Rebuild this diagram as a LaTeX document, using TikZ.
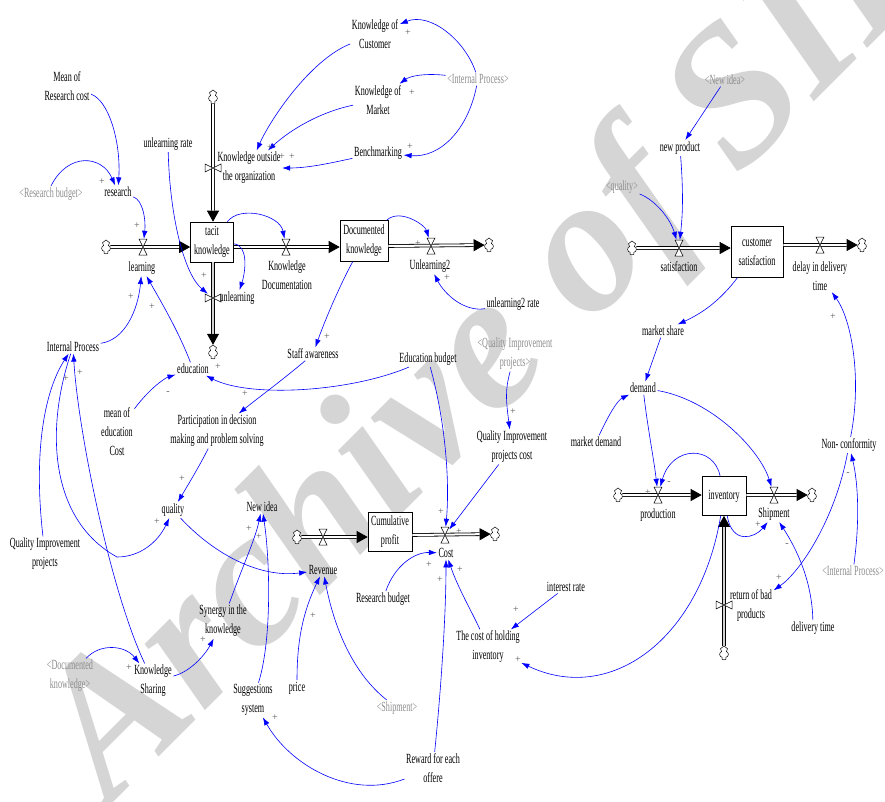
\documentclass[tikz,border=0pt]{standalone}
\usepackage{fontspec}
\setmainfont{Liberation Serif}[FakeStretch=0.58]
\newfontfamily\wmfont{Liberation Serif}
\usetikzlibrary{arrows.meta,shapes.symbols}

\tikzset{
  var/.style={align=center, inner sep=1.5pt, font=\fontsize{14}{19}\selectfont},
  shadow/.style={var, text=black!45},
  stock/.style={draw, fill=white, line width=0.6pt, align=center, inner sep=1pt, font=\fontsize{14}{19}\selectfont},
  sink/.style={cloud, cloud puffs=7, cloud ignores aspect, draw, fill=white, line width=0.5pt, minimum width=9pt, minimum height=14pt, inner sep=0pt},
  valve/.style={inner sep=0pt, minimum width=8pt, minimum height=16pt},
  vvalve/.style={inner sep=0pt, minimum width=16pt, minimum height=8pt},
  hglass/.pic={\draw[fill=white, line width=0.5pt] (-4,-8) -- (4,-8) -- (-4,8) -- (4,8) -- cycle;},
  pipe/.style={draw=black, line width=0.8pt, double distance=2pt},
  pipehead/.style={line width=0.8pt, -{Triangle[length=11pt,width=12pt]}},
  link/.style={draw=blue, line width=0.6pt, -{Latex[length=8pt,width=5.5pt]}},
  sign/.style={inner sep=0pt, text=black!65, font=\wmfont\fontsize{10}{10}\selectfont},
}
\newcommand{\flowpipe}[3][white]{%
  \draw[pipehead] #2 -- #3;
  \draw[pipe, double=#1, shorten >=11pt] #2 -- #3;
}

\begin{document}
\begin{tikzpicture}[x=1pt, y=-1pt]
\useasboundingbox (0,0) rectangle (885,801);
\clip (0,0) rectangle (885,801);

% watermark
\node[rotate=45, anchor=base west, text=gray!33, font=\wmfont\bfseries\itshape\fontsize{195}{195}\selectfont] (wm) at (108,808) {Archive of SID};

% stocks
\node[stock, minimum width=43pt, minimum height=40pt] (tacit) at (212,242) {tacit\\knowledge};
\node[stock, minimum width=48pt, minimum height=41pt] (doc) at (364,241) {Documented\\knowledge};
\node[stock, minimum width=52pt, minimum height=51pt] (cs) at (757,252) {customer\\satisfaction};
\node[stock, minimum width=44pt, minimum height=39pt] (cum) at (390,532) {Cumulative\\profit};
\node[stock, minimum width=44pt, minimum height=39pt] (inv) at (724,496) {inventory};

% clouds
\node[sink] (c1) at (106,247) {};
\node[sink] (c2) at (213,97) {};
\node[sink] (c3) at (213,352) {};
\node[sink] (c4) at (489,245) {};
\node[sink] (c5) at (632,248) {};
\node[sink] (c6) at (862,245) {};
\node[sink] (c7) at (297,537) {};
\node[sink] (c8) at (495,534) {};
\node[sink] (c9) at (618,495) {};
\node[sink] (c10) at (812,495) {};
\node[sink] (c11) at (724,653) {};

% valves
\node[valve] (vlearn) at (143,247) {};
\node[vvalve] (vkout) at (213,168) {};
\node[valve] (vkdoc) at (286,247) {};
\node[vvalve] (vunl) at (213,298) {};
\node[valve] (vunl2) at (431,246) {};
\node[valve] (vsat) at (679,248) {};
\node[valve] (vdel) at (820,245) {};
\node[valve] (vrev) at (323,537) {};
\node[valve] (vcost) at (445,535) {};
\node[valve] (vprod) at (658,495) {};
\node[valve] (vship) at (774,495) {};
\node[vvalve] (vrbp) at (724,605) {};

% pipes
\flowpipe{(c1)}{(c1 -| tacit.west)}
\flowpipe{(c2)}{(c2 |- tacit.north)}
\flowpipe{(tacit.east |- vkdoc)}{(vkdoc -| doc.west)}
\flowpipe[gray!35]{(c3 |- tacit.south)}{(c3)}
\flowpipe{(doc.east |- vunl2)}{(c4)}
\flowpipe{(c5)}{(c5 -| cs.west)}
\flowpipe{(cs.east |- vdel)}{(c6)}
\flowpipe{(c7)}{(c7 -| cum.west)}
\flowpipe{(cum.east |- vcost)}{(c8)}
\flowpipe{(c9)}{(c9 -| inv.west)}
\flowpipe{(inv.east |- vship)}{(c10)}
\flowpipe[gray!35]{(c11)}{(c11 |- inv.south)}

\foreach \v in {vlearn,vkdoc,vunl2,vsat,vdel,vrev,vcost,vprod,vship}
  \pic at (\v) {hglass};
\foreach \v in {vkout,vunl,vrbp}
  \pic[rotate=90] at (\v) {hglass};

% variables
\node[var] (mrc) at (67,86) {Mean of\\Research cost};
\node[shadow] (rbs) at (51,194) {<Research budget>};
\node[var] (res) at (118,192) {research};
\node[var] (ulr) at (168,144) {unlearning rate};
\node[var] (kout) at (249,168) {Knowledge outside\\the organization};
\node[var] (kcus) at (375,34) {Knowledge of\\Customer};
\node[var] (kmar) at (378,100) {Knowledge of\\Market};
\node[var] (bench) at (378,153) {Benchmarking};
\node[shadow] (ips1) at (478,79) {<Internal Process>};
\node[var] (learning) at (142,268) {learning};
\node[var] (kdoc) at (287,275) {Knowledge\\Documentation};
\node[var] (unl) at (237,298) {unlearning};
\node[var] (unl2) at (430,266) {Unlearning2};
\node[var] (ul2r) at (513,304) {unlearning2 rate};
\node[var] (ip) at (73,347) {Internal Process};
\node[var] (edu) at (193,369) {education};
\node[var] (staff) at (313,354) {Staff awareness};
\node[var] (edb) at (428,359) {Education budget};
\node[shadow] (qips) at (515,354) {<Quality Improvement\\projects>};
\node[var] (meco) at (117,432) {mean of\\education\\Cost};
\node[var] (part) at (217,431) {Participation in decision\\making and problem solving};
\node[var] (qipc) at (512,447) {Quality Improvement\\projects cost};
\node[var] (qual) at (173,510) {quality};
\node[var] (newidea) at (262,507) {New idea};
\node[var] (rev) at (323,570) {Revenue};
\node[var] (cost) at (446,553) {Cost};
\node[var] (qip) at (45,554) {Quality Improvement\\projects};
\node[var] (rb) at (383,599) {Research budget};
\node[var] (intr) at (566,587) {interest rate};
\node[var] (choi) at (488,647) {The cost of holding\\inventory};
\node[var] (syn) at (223,621) {Synergy in the\\knowledge};
\node[var] (ks) at (153,681) {Knowledge\\Sharing};
\node[shadow] (dks) at (70,676) {<Documented\\knowledge>};
\node[var] (sug) at (253,700) {Suggestions\\system};
\node[var] (price) at (297,688) {price};
\node[shadow] (shs) at (397,708) {<Shipment>};
\node[var] (rew) at (433,768) {Reward for each\\offere};
\node[shadow] (nis) at (725,80) {<New idea>};
\node[var] (np) at (680,148) {new product};
\node[shadow] (qs) at (622,187) {<quality>};
\node[var] (sat) at (679,267) {satisfaction};
\node[var] (delay) at (820,276) {delay in delivery\\time};
\node[var] (ms) at (663,331) {market share};
\node[var] (dem) at (643,388) {demand};
\node[var] (md) at (596,442) {market demand};
\node[var] (nc) at (849,445) {Non- conformity};
\node[var] (prod) at (658,515) {production};
\node[var] (ship) at (774,514) {Shipment};
\node[var] (rbp) at (751,606) {return of bad\\products};
\node[var] (dt) at (813,628) {delivery time};
\node[shadow] (ips2) at (853,571) {<Internal Process>};

% causal links
\draw[link] (mrc) .. controls (108,100) and (121,140) .. (res);
\draw[link] (rbs.north) .. controls (68,152) and (102,155) .. (res);
\draw[link] (res) .. controls (143,200) and (146,220) .. (vlearn);
\draw[link] (ips1) .. controls (465,40) and (430,12) .. (kcus);
\draw[link] (ips1) .. controls (425,73) and (410,76) .. (kmar);
\draw[link] (ips1) .. controls (468,130) and (440,158) .. (bench);
\draw[link] (kcus) .. controls (310,60) and (270,120) .. (kout);
\draw[link] (kmar) .. controls (320,112) and (290,130) .. (kout);
\draw[link] (bench) .. controls (335,162) and (310,168) .. (kout);
\draw[link] (tacit) .. controls (240,205) and (280,215) .. (vkdoc);
\draw[link] (tacit) .. controls (248,245) and (246,270) .. (unl);
\draw[link] (ulr) .. controls (170,220) and (185,275) .. (vunl);
\draw[link] (doc) .. controls (400,208) and (425,225) .. (vunl2);
\draw[link] (ul2r) .. controls (465,312) and (445,295) .. (unl2);
\draw[link] (doc) .. controls (340,285) and (325,320) .. (staff);
\draw[link] (ip) .. controls (125,340) and (138,310) .. (learning);
\draw[link] (edu) .. controls (178,330) and (160,300) .. (learning);
\draw[link] (meco) .. controls (150,388) and (165,378) .. (edu);
\draw[link] (edb) .. controls (350,392) and (250,398) .. (edu);
\draw[link] (staff) .. controls (285,378) and (258,398) .. (part);
\draw[link] (part) .. controls (200,465) and (188,485) .. (qual);
\draw[link] (qual) .. controls (215,555) and (260,578) .. (rev);
\draw[link] (ip) .. controls (45,430) and (50,520) .. (117,557) .. controls (140,557) and (158,542) .. (qual);
\draw[link] (qip) .. controls (33,450) and (45,390) .. (ip);
\draw[link] (ks) .. controls (110,590) and (78,430) .. (ip);
\draw[link] (dks) .. controls (100,643) and (125,645) .. (ks);
\draw[link] (ks) .. controls (190,672) and (205,655) .. (syn);
\draw[link] (syn) .. controls (243,565) and (255,540) .. (newidea);
\draw[link] (sug) .. controls (272,640) and (270,560) .. (newidea);
\draw[link] (rew) .. controls (350,800) and (290,765) .. (sug);
\draw[link] (price) .. controls (297,640) and (303,612) .. (rev);
\draw[link] (shs) .. controls (355,675) and (335,632) .. (rev);
\draw[link] (rb) .. controls (395,565) and (415,552) .. (cost);
\draw[link] (rew) .. controls (440,700) and (446,620) .. (cost);
\draw[link] (choi) .. controls (472,612) and (458,588) .. (cost);
\draw[link] (intr) -- (choi);
\draw[link] (inv) .. controls (700,640) and (610,705) .. (choi);
\draw[link] (edb) .. controls (445,420) and (450,480) .. (vcost);
\draw[link] (qipc) -- (vcost);
\draw[link] (qips) .. controls (505,390) and (506,400) .. (qipc);
\draw[link] (nis) -- (np);
\draw[link] (np) .. controls (684,200) and (682,220) .. (vsat);
\draw[link] (qs) .. controls (655,200) and (670,218) .. (vsat);
\draw[link] (cs) .. controls (722,298) and (705,312) .. (ms);
\draw[link] (ms) -- (dem);
\draw[link] (md) .. controls (610,412) and (618,400) .. (dem);
\draw[link] (dem) .. controls (648,430) and (654,460) .. (vprod);
\draw[link] (dem) .. controls (712,400) and (760,450) .. (vship);
\draw[link] (inv) .. controls (714,445) and (672,445) .. (vprod);
\draw[link] (inv) .. controls (732,545) and (755,538) .. (ship);
\draw[link] (dt) .. controls (812,580) and (796,548) .. (ship);
\draw[link] (nc) .. controls (835,520) and (800,572) .. (rbp);
\draw[link] (ips2) .. controls (860,520) and (858,482) .. (nc);
\draw[link] (nc) .. controls (862,380) and (852,320) .. (delay);

% polarity signs
\foreach \x/\y/\s [count=\i] in {137/226/+, 102/182/+, 408/33/+, 412/93/+, 410/147/+,
    270/148/+, 282/157/+, 292/157/+, 418/244/+, 447/278/+, 327/337/+, 204/276/+,
    131/297/+, 152/307/+, 218/367/+, 168/393/-, 245/394/+, 182/479/+, 157/522/+,
    66/379/+, 80/373/+, 129/668/+, 203/640/+, 249/529/+, 259/537/+, 275/718/+,
    313/616/+, 429/565/+, 440/580/+, 460/570/+, 516/610/+, 518/660/+, 441/512/+,
    459/532/+, 513/412/+, 648/493/+, 669/483/-, 758/525/+, 787/545/-, 779/578/+,
    848/474/-, 833/317/+}
  \node[sign] (sg\i) at (\x,\y) {\s};

\end{tikzpicture}
\end{document}
